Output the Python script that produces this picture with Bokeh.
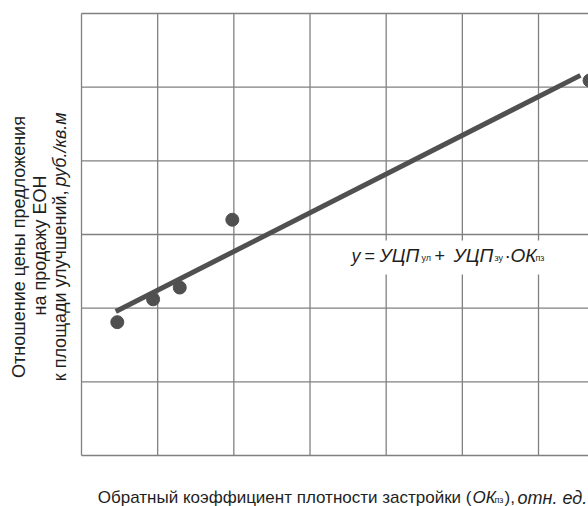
import math
from bokeh.plotting import figure
from bokeh.models import Label
from bokeh.embed import file_html
from bokeh.resources import INLINE

# ---- data ----
ok_pz = [0.47, 0.94, 1.29, 1.98, 6.67]          # x of observed points
price_ratio = [1.81, 2.12, 2.28, 3.20, 5.09]    # y of observed points
trend_x = [0.45, 6.55]
trend_y = [1.955, 5.16]
x_grid_ticks = [0, 1, 2, 3, 4, 5, 6]
y_grid_ticks = [0, 1, 2, 3, 4, 5, 6]
y_top = 6

FONT = "Liberation Sans"
DARK = "#505050"
GRID = "#808080"
TXT = "#1e1e1e"

W, H = 588, 506
FL, FT, FB = 81, 13, 455         # plot area left / top / bottom in page px
XU = 76.17                       # px per x unit
YU = 73.67                       # px per y unit


def dx(page_x):
    return (page_x - FL) / XU


def dy(page_y):
    return (FB - page_y) / YU


x_end = dx(W)

p = figure(width=W, height=H, output_backend="svg", toolbar_location=None,
           x_range=(dx(0), x_end), y_range=(dy(H), dy(0)),
           min_border=0)
p.xaxis.visible = False
p.yaxis.visible = False
p.grid.visible = False
p.outline_line_color = None
p.background_fill_color = "white"
p.border_fill_color = "white"

# grid (plot area lines)
p.segment(x0=x_grid_ticks, y0=[0] * len(x_grid_ticks), x1=x_grid_ticks,
          y1=[y_top] * len(x_grid_ticks), line_color=GRID, line_width=1.3)
p.segment(x0=[0] * len(y_grid_ticks), y0=y_grid_ticks, x1=[x_end] * len(y_grid_ticks),
          y1=y_grid_ticks, line_color=GRID, line_width=1.3)

# trend line and points
p.line(trend_x, trend_y, line_color=DARK, line_width=5)
p.scatter(ok_pz, price_ratio, size=13, fill_color=DARK, line_color=DARK)

# white background behind formula
p.quad(left=[dx(340)], right=[dx(552)], top=[dy(240)], bottom=[dy(274)],
       fill_color="white", line_color=None)


def lab(text, px_, py_, size=17, style="normal", align="left", angle=0.0, baseline="alphabetic"):
    p.add_layout(Label(x=dx(px_), y=dy(py_), text=text, text_font=FONT,
                       text_font_size=f"{size}px", text_font_style=style,
                       text_align=align, text_baseline=baseline, angle=angle,
                       text_color=TXT))


base = 255
lab("y", 351, base, size=18, style="italic")
lab("=", 364, base, size=18)
lab("УЦП", 379, base, size=19, style="italic")
lab("ул", 421, base + 2, size=9)
lab("+", 434, base, size=18)
lab("УЦП", 453, base, size=19, style="italic")
lab("зу", 494, base + 2, size=9)
lab("·", 504, base, size=19)
lab("ОК", 510, base, size=19, style="italic")
lab("пз", 535, base + 2, size=9)

# x-axis label
xb = 497
lab("Обратный коэффициент плотности застройки (", 471, xb, align="right")
lab("ОК", 472, xb, style="italic")
lab("пз", 494, xb + 2, size=9)
lab("),", 504, xb)
lab("отн. ед.", 517, xb, size=18, style="italic")

# y-axis label (rotated)
A = math.pi / 2
lab("Отношение цены предложения", 18, 246.5, size=18, align="center", angle=A)
lab("на продажу ЕОН", 39, 245, size=18, align="center", angle=A)
lab("к площади улучшений,", 59.5, 190, size=18, align="right", angle=A)
lab("руб./кв.м", 59.5, 186, size=18, style="italic", align="left", angle=A)

open("out.html", "w").write(file_html(p, INLINE))
